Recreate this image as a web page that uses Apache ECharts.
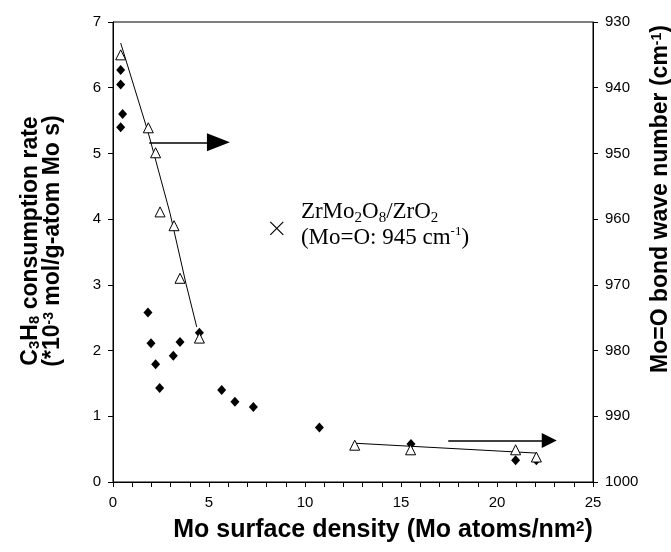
<!DOCTYPE html>
<html>
<head>
<meta charset="utf-8">
<script src="https://cdn.jsdelivr.net/npm/echarts@6/dist/echarts.min.js"></script>
<style>
html,body{margin:0;padding:0;background:#fff;}
#chart{width:671px;height:552px;}
</style>
</head>
<body>
<div id="chart"></div>
<script>
// Reaction rate (left axis), diamonds
var rateX = [0.40, 0.40, 0.50, 0.40, 1.82, 1.98, 2.22, 2.43, 3.14, 3.49, 4.50, 5.66, 6.35, 7.31, 10.75, 15.52, 20.97, 22.05];
var rateY = [6.27, 6.05, 5.60, 5.40, 2.58, 2.11, 1.79, 1.43, 1.92, 2.13, 2.27, 1.40, 1.22, 1.14, 0.83, 0.58, 0.33, 0.33];
// Mo=O band position (right axis), open triangles
var waveX = [0.40, 1.84, 2.22, 2.45, 3.18, 3.49, 4.50, 12.59, 15.50, 20.97, 22.05];
var waveY = [935.0, 946.1, 949.9, 958.9, 961.0, 969.0, 978.1, 994.4, 995.1, 995.1, 996.2];
// Trend lines (right axis)
var trend1X = [0.40, 1.84, 2.97, 3.80, 4.36];
var trend1Y = [933.2, 946.9, 959.1, 969.8, 976.4];
var trend2X = [12.59, 22.05];
var trend2Y = [994.1, 995.6];
// Reference compound marker (left axis)
var refX = [8.53];
var refY = [3.86];
// Arrows (left axis coordinates): start x, end x, y
var arrowStartX = [1.89, 17.46];
var arrowEndX = [5.49, 22.72];
var arrowY = [5.17, 0.63];
// Axis ticks
var xTicks = [0, 5, 10, 15, 20, 25];
var leftTicks = [0, 1, 2, 3, 4, 5, 6, 7];
var rightTicks = [930, 940, 950, 960, 970, 980, 990, 1000];

function pairs(xs, ys) { return xs.map(function (x, i) { return [x, ys[i]]; }); }

var SANS = 'Liberation Sans';
var SERIF = 'Liberation Serif';
function makeRich(size) {
  return {
    a: { fontFamily: SANS, fontWeight: 'bold', fontSize: size, color: '#000', lineHeight: 22 },
    s: { fontFamily: SANS, fontWeight: 'bold', fontSize: Math.round(size * 0.64), color: '#000', verticalAlign: 'bottom', lineHeight: 16 },
    p: { fontFamily: SANS, fontWeight: 'bold', fontSize: Math.round(size * 0.6), color: '#000', verticalAlign: 'top', lineHeight: 13 }
  };
}

var arrowSizes = [[18, 23], [15, 15]];
var arrowData = arrowStartX.map(function (sx, i) {
  return [
    { coord: [sx, arrowY[i]], symbol: 'none' },
    { coord: [arrowEndX[i], arrowY[i]], symbol: 'triangle', symbolSize: arrowSizes[i] }
  ];
});

var plain = function (v) { return String(v); };

var chart = echarts.init(document.getElementById('chart'), null, { renderer: 'canvas' });
chart.setOption({
  animation: false,
  backgroundColor: '#fff',
  grid: {
    left: 113, right: 78, top: 22, bottom: 70, containLabel: false, outerBoundsMode: 'none',
    show: true, borderColor: '#000', borderWidth: 1, backgroundColor: 'transparent'
  },
  xAxis: {
    type: 'value', min: xTicks[0], max: xTicks[xTicks.length - 1], interval: 5,
    axisLine: { show: true, onZero: false, lineStyle: { color: '#000', width: 1 } },
    axisTick: { show: true, length: 5, lineStyle: { color: '#000' } },
    minorTick: { show: true, splitNumber: 5, length: 5, lineStyle: { color: '#000' } },
    splitLine: { show: false },
    axisLabel: { color: '#000', fontFamily: SANS, fontSize: 15, margin: 13, formatter: plain },
    name: '{a|Mo surface density (Mo atoms/nm}{p|2}{a|)}',
    nameLocation: 'middle', nameGap: 37,
    nameTextStyle: { rich: makeRich(25), padding: [0, 0, 0, 60] }
  },
  yAxis: [
    {
      type: 'value', min: leftTicks[0], max: leftTicks[leftTicks.length - 1], interval: 1, position: 'left',
      axisLine: { show: true, onZero: false, lineStyle: { color: '#000', width: 1 } },
      axisTick: { show: true, length: 5, lineStyle: { color: '#000' } },
      splitLine: { show: false },
      axisLabel: { color: '#000', fontFamily: SANS, fontSize: 15, margin: 12, formatter: plain },
      name: '{a|C}{s|3}{a|H}{s|8}{a| consumption rate}\n{a|(*10}{p|-3}{a| mol/g-atom Mo s)}',
      nameLocation: 'middle', nameGap: 49, nameRotate: 90,
      nameTextStyle: { rich: makeRich(23), lineHeight: 22, padding: [0, 0, 0, 22] }
    },
    {
      type: 'value', min: rightTicks[0], max: rightTicks[rightTicks.length - 1], interval: 10, inverse: true, position: 'right',
      axisLine: { show: true, onZero: false, lineStyle: { color: '#000', width: 1 } },
      axisTick: { show: true, length: 5, lineStyle: { color: '#000' } },
      splitLine: { show: false },
      axisLabel: { color: '#000', fontFamily: SANS, fontSize: 15, margin: 12, formatter: plain },
      name: '{a|Mo=O bond wave number (cm}{p|-1}{a|)}',
      nameLocation: 'middle', nameGap: 57, nameRotate: 90,
      nameTextStyle: { rich: makeRich(23), padding: [0, 0, 0, 106] }
    }
  ],
  series: [
    {
      name: 'trend1', type: 'line', yAxisIndex: 1, data: pairs(trend1X, trend1Y),
      symbol: 'none', lineStyle: { color: '#000', width: 1 }, silent: true, z: 2
    },
    {
      name: 'trend2', type: 'line', yAxisIndex: 1, data: pairs(trend2X, trend2Y),
      symbol: 'none', lineStyle: { color: '#000', width: 1 }, silent: true, z: 2
    },
    {
      name: 'rate', type: 'scatter', yAxisIndex: 0, data: pairs(rateX, rateY),
      symbol: 'diamond', symbolSize: [9, 10], itemStyle: { color: '#000', opacity: 1 }, z: 3,
      markLine: {
        silent: true, symbol: ['none', 'triangle'], animation: false,
        label: { show: false },
        lineStyle: { color: '#000', width: 1.5, type: 'solid', opacity: 1 },
        itemStyle: { color: '#000', opacity: 1 },
        emphasis: { disabled: true },
        data: arrowData
      }
    },
    {
      name: 'wave', type: 'scatter', yAxisIndex: 1, data: pairs(waveX, waveY),
      symbol: 'triangle', symbolSize: [10, 10],
      itemStyle: { color: '#fff', borderColor: '#000', borderWidth: 1, opacity: 1 }, z: 4
    },
    {
      name: 'ref', type: 'scatter', yAxisIndex: 0, data: pairs(refX, refY),
      symbol: 'path://M0,0L10,10M10,0L0,10', symbolSize: 13,
      itemStyle: { color: 'rgba(0,0,0,0)', borderColor: '#000', borderWidth: 1.2, opacity: 1 }, z: 4,
      label: {
        show: true, position: 'right', distance: 17, offset: [0, -3],
        formatter: '{t|ZrMo}{s|2}{t|O}{s|8}{t|/ZrO}{s|2}\n{t|(Mo=O: 945 cm}{p|-1}{t|)}',
        rich: {
          t: { fontFamily: SERIF, fontSize: 23, color: '#000', lineHeight: 26 },
          s: { fontFamily: SERIF, fontSize: 15, color: '#000', verticalAlign: 'bottom', lineHeight: 18 },
          p: { fontFamily: SERIF, fontSize: 13, color: '#000', verticalAlign: 'top', lineHeight: 14 }
        }
      }
    }
  ]
});
</script>
</body>
</html>
